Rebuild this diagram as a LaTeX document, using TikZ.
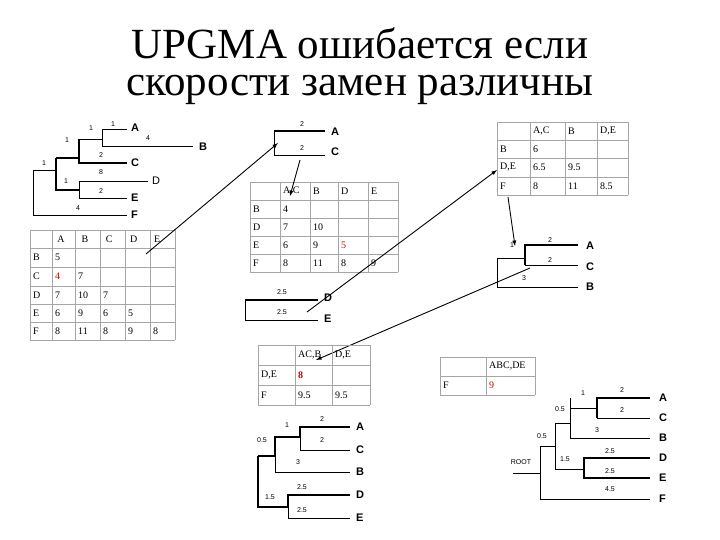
\documentclass[tikz,border=0pt]{standalone}
\usepackage{fontspec}
\setmainfont{Liberation Serif}
\newfontfamily\labfont{Liberation Sans}
\begin{document}
\begin{tikzpicture}[x=1pt,y=-1pt,
  br/.style={line width=0.6pt},
  tb/.style={line width=1.6pt},
  grd/.style={draw=gray!70,line width=0.8pt},
  cell/.style={anchor=west,inner sep=0pt,font=\fontsize{10}{10}\selectfont},
  red/.style={text=red!80!black},
  leaf/.style={anchor=west,inner sep=0pt,font=\labfont\bfseries\fontsize{11}{11}\selectfont},
  num/.style={inner sep=0pt,font=\labfont\fontsize{7}{7}\selectfont},
  ttl/.style={inner sep=0pt,font=\fontsize{43}{43}\selectfont},
  arr/.style={-latex,line width=0.9pt}]
\useasboundingbox (0,0) rectangle (720,540);
\node[ttl] (t1) at (360,43) {UPGMA ошибается если};
\node[ttl] (t2) at (360,90) {скорости замен различны};
% ---- top-left tree
\draw[br] (33,170) -- (33,215) -- (127,215);
\draw[br] (33,170) -- (56,170);
\draw[tb] (56,158) -- (56,190) -- (79,190);
\draw[tb] (56,158) -- (79,158);
\draw[tb] (79,139) -- (79,163) -- (127,163);
\draw[br] (79,139) -- (102,139) -- (102,129) -- (127,129);
\draw[br] (102,139) -- (102,146) -- (193,146);
\draw[br] (79,181) -- (79,198) -- (127,198);
\draw[br] (79,181) -- (148,181);
\node[leaf] (la) at (131,128) {A};
\node[leaf] (lb) at (199,147) {B};
\node[leaf] (lc) at (131,163) {C};
\node[leaf,font=\labfont\fontsize{11}{11}\selectfont] (ld) at (152,181) {D};
\node[leaf] (le) at (131,198) {E};
\node[leaf] (lf) at (131,215) {F};
\foreach \x/\y/\t [count=\i] in {113/124/1,148/138/4,91/128/1,101/155/2,67/140/1,101/172/8,66/181/1,101/191/2,44/163/1,78/208/4}
  \node[num] (n\i) at (\x,\y) {\t};
% ---- table 1
\foreach \x in {30,52,75,100,125,150,175} \draw[grd] (\x,230) -- (\x,340);
\foreach \y in {230,248,267,286,304,322,340} \draw[grd] (30,\y) -- (175,\y);
\foreach \t [count=\i] in {A,B,C,D,E} \node[cell] (ha\i) at ({30+\i*24.2+3},239) {\t};
\foreach \t/\y in {B/257,C/276,D/295,E/313,F/331} \node[cell] (ra\t) at (33,\y) {\t};
\node[cell] (c1) at (55,257) {5};
\node[cell,red] (c2) at (55,276) {4}; \node[cell] (c3) at (78,276) {7};
\node[cell] (c4) at (55,295) {7}; \node[cell] (c5) at (78,295) {10}; \node[cell] (c6) at (103,295) {7};
\node[cell] (c7) at (55,313) {6}; \node[cell] (c8) at (78,313) {9}; \node[cell] (c9) at (103,313) {6}; \node[cell] (c10) at (128,313) {5};
\node[cell] (c11) at (55,331) {8}; \node[cell] (c12) at (78,331) {11}; \node[cell] (c13) at (103,331) {8}; \node[cell] (c14) at (128,331) {9}; \node[cell] (c15) at (153,331) {8};
\coordinate (s1) at (146,254);
% ---- AC tree
\draw[tb] (274,131) -- (325,131);
\draw[br] (274,131) -- (274,155) -- (325,155);
\node[num] (ac1) at (302,124) {2};
\node[num] (ac2) at (302,148) {2};
\node[leaf] (aca) at (331,132) {A};
\node[leaf] (acc) at (331,152) {C};
\coordinate (e1) at (278,143);
\draw[arr] (s1) -- (e1);
% ---- table 2
\foreach \x in {250,280,310,338,368,398} \draw[grd] (\x,182) -- (\x,272);
\foreach \y in {182,200,218,236,254,272} \draw[grd] (250,\y) -- (398,\y);
\node[cell] (h21) at (283,191) {A,C}; \node[cell] (h22) at (313,191) {B}; \node[cell] (h23) at (341,191) {D}; \node[cell] (h24) at (371,191) {E};
\foreach \t/\y in {B/209,D/227,E/245,F/263} \node[cell] (rb\t) at (253,\y) {\t};
\node[cell] (d1) at (283,209) {4};
\node[cell] (d2) at (283,227) {7}; \node[cell] (d3) at (313,227) {10};
\node[cell] (d4) at (283,245) {6}; \node[cell] (d5) at (313,245) {9}; \node[cell,red] (d6) at (341,245) {5};
\node[cell] (d7) at (283,263) {8}; \node[cell] (d8) at (313,263) {11}; \node[cell] (d9) at (341,263) {8}; \node[cell] (d10) at (371,263) {9};
\coordinate (s2) at (300,160); \coordinate (e2) at (290,196);
\draw[arr] (s2) -- (e2);
% ---- DE tree
\draw[tb] (245,300) -- (318,300);
\draw[br] (245,300) -- (245,320) -- (318,320);
\node[num] (de1) at (282,292) {2.5};
\node[num] (de2) at (282,312) {2.5};
\node[leaf] (ded) at (324,298) {D};
\node[leaf] (dee) at (324,319) {E};
\coordinate (s3) at (307,312); \coordinate (e3) at (497,170);
\draw[arr] (s3) -- (e3);
% ---- table 3
\foreach \x in {497,530,565,597,628} \draw[grd] (\x,122) -- (\x,195);
\foreach \y in {122,140,158,177,195} \draw[grd] (497,\y) -- (628,\y);
\node[cell] (h31) at (533,131) {A,C}; \node[cell] (h32) at (568,131) {B}; \node[cell] (h33) at (600,131) {D,E};
\node[cell] (r31) at (500,149) {B}; \node[cell] (r32) at (500,167) {D,E}; \node[cell] (r33) at (500,186) {F};
\node[cell] (f1) at (533,149) {6};
\node[cell] (f2) at (533,167) {6.5}; \node[cell] (f3) at (568,167) {9.5};
\node[cell] (f4) at (533,186) {8}; \node[cell] (f5) at (568,186) {11}; \node[cell] (f6) at (600,186) {8.5};
\coordinate (s4) at (508,197); \coordinate (e4) at (515,246);
\draw[arr] (s4) -- (e4);
% ---- ACB tree
\draw[br] (497,258) -- (497,287) -- (578,287);
\draw[br] (497,258) -- (525,258);
\draw[tb] (525,265) -- (525,245) -- (578,245);
\draw[br] (525,265) -- (578,265);
\node[num] (b1) at (512,245) {1};
\node[num] (b2) at (550,240) {2};
\node[num] (b3) at (550,260) {2};
\node[num] (b4) at (524,278) {3};
\node[leaf] (ba) at (586,246) {A};
\node[leaf] (bc) at (586,267) {C};
\node[leaf] (bb) at (586,287) {B};
\coordinate (s5) at (530,268); \coordinate (e5) at (316,360);
\draw[arr] (s5) -- (e5);
% ---- table 4
\foreach \x in {258,295,332,370} \draw[grd] (\x,345) -- (\x,405);
\foreach \y in {345,365,385,405} \draw[grd] (258,\y) -- (370,\y);
\node[cell] (h41) at (298,355) {AC,B}; \node[cell] (h42) at (335,355) {D,E};
\node[cell] (r41) at (261,375) {D,E}; \node[cell] (r42) at (261,395) {F};
\node[cell,red,font=\bfseries\fontsize{10}{10}\selectfont] (g1) at (298,375) {8};
\node[cell] (g2) at (298,395) {9.5}; \node[cell] (g3) at (335,395) {9.5};
% ---- table 5
\foreach \x in {440,486,535} \draw[grd] (\x,357) -- (\x,395);
\foreach \y in {357,376,395} \draw[grd] (440,\y) -- (535,\y);
\node[cell] (h51) at (489,366) {ABC,DE};
\node[cell] (r51) at (443,385) {F};
\node[cell,red] (k1) at (489,385) {9};
% ---- bottom-left tree
\draw[tb] (258,456) -- (258,507) -- (288,507);
\draw[tb] (258,456) -- (275,456) -- (275,437) -- (300,437);
\draw[br] (275,456) -- (275,472) -- (350,472);
\draw[tb] (300,437) -- (300,427) -- (350,427);
\draw[br] (300,437) -- (300,450) -- (350,450);
\draw[tb] (288,507) -- (288,495) -- (350,495);
\draw[br] (288,507) -- (288,518) -- (350,518);
\foreach \x/\y/\t [count=\i] in {287/425/1,322/419/2,262/440/0.5,322/440/2,298/462/3,302/487/2.5,270/497/1.5,302/510/2.5}
  \node[num] (m\i) at (\x,\y) {\t};
\foreach \t/\y in {A/427,C/450,B/472,D/495,E/518} \node[leaf] (p\t) at (356,\y) {\t};
% ---- bottom-right tree
\draw[br] (513,473) -- (540,473);
\draw[br] (540,446) -- (540,499) -- (650,499);
\draw[br] (540,446) -- (555,446);
\draw[br] (555,423) -- (555,469);
\draw[br] (555,423) -- (570,423);
\draw[br] (570,398) -- (570,438) -- (650,438);
\draw[br] (570,408) -- (597,408);
\draw[tb] (597,418) -- (597,398) -- (650,398);
\draw[br] (597,418) -- (650,418);
\draw[br] (555,469) -- (584,469);
\draw[tb] (584,469) -- (584,458) -- (650,458);
\draw[tb] (584,469) -- (584,478) -- (650,478);
\foreach \x/\y/\t [count=\i] in {583/393/1,622/390/2,560/409/0.5,622/410/2,597/430/3,542/436/0.5,610/451/2.5,565/459/1.5,610/471/2.5,610/489/4.5,521/462/ROOT}
  \node[num] (q\i) at (\x,\y) {\t};
\foreach \t/\y in {A/398,C/418,B/438,D/458,E/478,F/499} \node[leaf] (w\t) at (659,\y) {\t};
\end{tikzpicture}
\end{document}
